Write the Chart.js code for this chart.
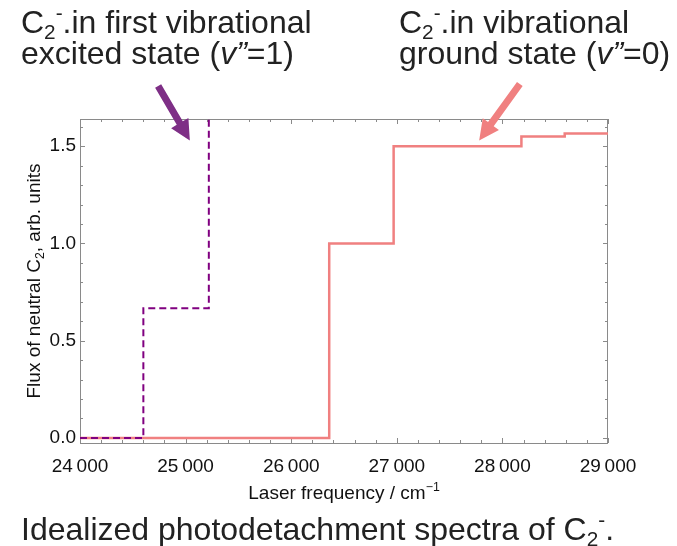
<!DOCTYPE html>
<html>
<head>
<meta charset="utf-8">
<script src="https://cdn.jsdelivr.net/npm/chart.js@4.4.0/dist/chart.umd.min.js"></script>
<style>
  html, body { margin: 0; padding: 0; background: #fff; }
</style>
</head>
<body>
<canvas id="chart" width="677" height="546"></canvas>
<script>
// Step edges (laser frequency, cm^-1) and the flux level reached at each edge
const excitedEdges = [24000, 24600, 25220];
const excitedFlux = [0, 0.667, 2];
const groundEdges = [24000, 26360, 26970, 28180, 28590, 29000];
const groundFlux = [0, 1.0, 1.5, 1.55, 1.565, 1.565];

// Labelled ticks
const xTickLabels = [24000, 25000, 26000, 27000, 28000, 29000];
const yTickLabels = [0, 0.5, 1.0, 1.5];

// Arrow annotations, tail -> tip, in data coordinates
const excitedArrow = { from: [24740, 1.81], to: [25040, 1.53] };
const groundArrow = { from: [28165, 1.82], to: [27780, 1.53] };

const purple = '#800080';
const pink = '#f08080';
const textColor = '#222';
const frameColor = '#8a8a8a';
const FONT = '"Liberation Sans", Arial, sans-serif';

function toPoints(xs, ys) {
    return xs.map((x, i) => ({ x: x, y: ys[i] }));
}

// draw a list of [text, mode] runs, mode: '' | 'sub' | 'sup' | 'it'
function drawRuns(ctx, runs, x, y, size, align) {
    const parts = runs.map(([t, m]) => {
        const s = (m === 'sub' || m === 'sup') ? size * 0.65 : size;
        const font = (m === 'it' ? 'italic ' : '') + s + 'px ' + FONT;
        ctx.font = font;
        return { t: t, m: m, font: font, w: ctx.measureText(t).width };
    });
    const total = parts.reduce((a, p) => a + p.w, 0);
    let cx = align === 'center' ? x - total / 2 : x;
    ctx.textAlign = 'left';
    ctx.textBaseline = 'alphabetic';
    parts.forEach(p => {
        ctx.font = p.font;
        const dy = p.m === 'sub' ? size * 0.2 : p.m === 'sup' ? -size * 0.4 : 0;
        ctx.fillText(p.t, cx, y + dy);
        cx += p.w;
    });
}

function drawArrow(ctx, x0, y0, x1, y1, color) {
    const ang = Math.atan2(y1 - y0, x1 - x0);
    const len = Math.hypot(x1 - x0, y1 - y0);
    const headL = 20, headW = 10, shaft = 3.5;
    ctx.save();
    ctx.translate(x0, y0);
    ctx.rotate(ang);
    ctx.fillStyle = color;
    ctx.beginPath();
    ctx.moveTo(0, -shaft);
    ctx.lineTo(len - headL, -shaft);
    ctx.lineTo(len - headL, -headW);
    ctx.lineTo(len, 0);
    ctx.lineTo(len - headL, headW);
    ctx.lineTo(len - headL, shaft);
    ctx.lineTo(0, shaft);
    ctx.closePath();
    ctx.fill();
    ctx.restore();
}

// frame with inward ticks on all four sides
const framePlugin = {
    id: 'frame',
    beforeDatasetsDraw(chart) {
        const { ctx, chartArea: a, scales } = chart;
        ctx.save();
        ctx.strokeStyle = frameColor;
        ctx.lineWidth = 1;
        ctx.strokeRect(a.left + 0.5, a.top + 0.5, a.right - a.left - 1, a.bottom - a.top);
        ctx.beginPath();
        scales.x.ticks.forEach(t => {
            const px = Math.round(scales.x.getPixelForValue(t.value)) + 0.5;
            const l = xTickLabels.includes(t.value) ? 5 : 3;
            ctx.moveTo(px, a.bottom); ctx.lineTo(px, a.bottom - l);
            ctx.moveTo(px, a.top); ctx.lineTo(px, a.top + l);
        });
        scales.y.ticks.forEach(t => {
            const py = Math.round(scales.y.getPixelForValue(t.value)) + 0.5;
            const major = yTickLabels.some(v => Math.abs(v - t.value) < 1e-6);
            const l = major ? 5 : 3;
            ctx.moveTo(a.left, py); ctx.lineTo(a.left + l, py);
            ctx.moveTo(a.right, py); ctx.lineTo(a.right - l, py);
        });
        ctx.stroke();
        ctx.restore();
    },
    afterDraw(chart) {
        const { ctx, chartArea: a, scales } = chart;
        ctx.save();
        ctx.fillStyle = textColor;
        // annotations
        drawRuns(ctx, [['C', ''], ['2', 'sub'], ['-', 'sup'], ['.in first vibrational', '']], 21, 33, 32);
        drawRuns(ctx, [['excited state (', ''], ['v\u201d', 'it'], ['=1)', '']], 21, 64, 32);
        drawRuns(ctx, [['C', ''], ['2', 'sub'], ['-', 'sup'], ['.in vibrational', '']], 399, 33, 32);
        drawRuns(ctx, [['ground state (', ''], ['v\u201d', 'it'], ['=0)', '']], 399, 64, 32);
        // caption
        drawRuns(ctx, [['Idealized photodetachment spectra of C', ''], ['2', 'sub'], ['-', 'sup'], ['.', '']], 21, 540, 32);
        // axis titles
        ctx.fillStyle = '#111';
        drawRuns(ctx, [['Laser frequency / cm', ''], ['\u22121', 'sup']], (a.left + a.right) / 2, 499, 19, 'center');
        ctx.save();
        ctx.translate(40, (a.top + a.bottom) / 2);
        ctx.rotate(-Math.PI / 2);
        drawRuns(ctx, [['Flux of neutral C', ''], ['2', 'sub'], [', arb. units', '']], 0, 0, 19, 'center');
        ctx.restore();
        // arrows
        const px = v => scales.x.getPixelForValue(v);
        const py = v => scales.y.getPixelForValue(v);
        drawArrow(ctx, px(excitedArrow.from[0]), py(excitedArrow.from[1]),
            px(excitedArrow.to[0]), py(excitedArrow.to[1]), '#7e2f86');
        drawArrow(ctx, px(groundArrow.from[0]), py(groundArrow.from[1]),
            px(groundArrow.to[0]), py(groundArrow.to[1]), pink);
        ctx.restore();
    }
};

const data = {
    datasets: [
        {
            label: 'v"=1',
            data: toPoints(excitedEdges, excitedFlux),
            borderColor: purple,
            borderWidth: 2,
            borderDash: [7, 4],
            stepped: 'before',
            pointRadius: 0,
            fill: false
        },
        {
            label: 'v"=0',
            data: toPoints(groundEdges, groundFlux),
            borderColor: pink,
            borderWidth: 2.5,
            stepped: 'before',
            pointRadius: 0,
            fill: false
        }
    ]
};

const options = {
    responsive: false,
    animation: false,
    layout: { padding: { top: 119, right: 69, left: 0, bottom: 0 } },
    plugins: { legend: { display: false }, tooltip: { enabled: false } },
    scales: {
        x: {
            type: 'linear',
            min: 24000,
            max: 29000,
            grid: { display: false, drawTicks: false },
            border: { display: false },
            afterBuildTicks: s => {
                const t = [];
                for (let v = 24000; v <= 29000; v += 200) t.push({ value: v });
                s.ticks = t;
            },
            afterFit: s => { s.height = 103; },
            ticks: {
                autoSkip: false,
                maxRotation: 0,
                padding: 12,
                color: '#111',
                font: { family: FONT, size: 19 },
                callback: v => xTickLabels.includes(v)
                    ? String(v).slice(0, 2) + '\u2009' + String(v).slice(2) : ''
            }
        },
        y: {
            type: 'linear',
            min: -0.026,
            max: 1.64,
            grid: { display: false, drawTicks: false },
            border: { display: false },
            afterBuildTicks: s => {
                const t = [];
                for (let i = 0; i <= 16; i++) t.push({ value: i / 10 });
                s.ticks = t;
            },
            afterFit: s => { s.width = 80; },
            ticks: {
                autoSkip: false,
                padding: 4,
                color: '#111',
                font: { family: FONT, size: 19 },
                callback: v => yTickLabels.some(l => Math.abs(l - v) < 1e-6) ? v.toFixed(1) : ''
            }
        }
    }
};

new Chart(document.getElementById('chart'), { type: 'line', data: data, options: options, plugins: [framePlugin] });
</script>
</body>
</html>
